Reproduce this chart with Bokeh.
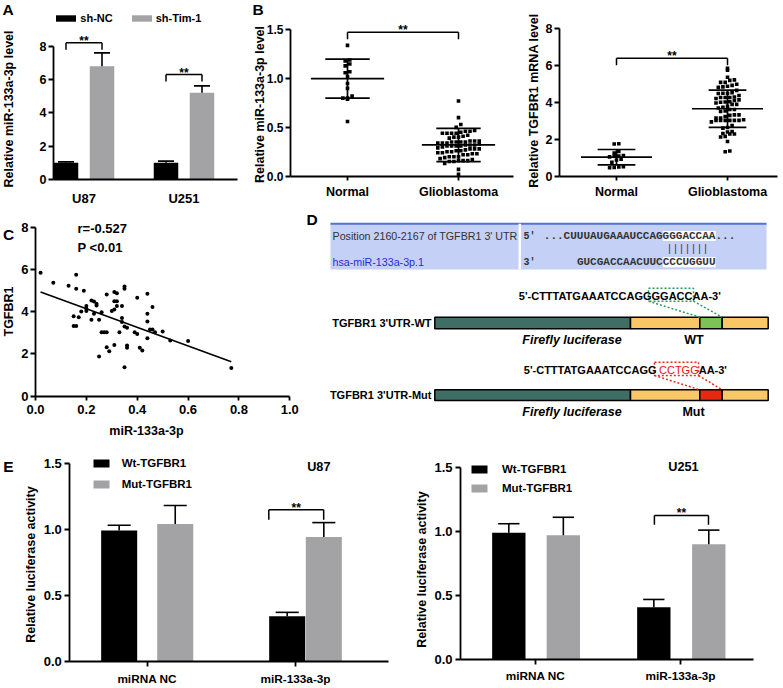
import math
import numpy as np
from bokeh.plotting import figure
from bokeh.models import Range1d, FixedTicker, Label, Legend, LegendItem
from bokeh.layouts import row, column
from bokeh.embed import file_html
from bokeh.resources import INLINE
from bokeh.core.properties import value

# ---------------- data ----------------
A_groups = ["U87", "U251"]
A_shNC = [1.00, 1.00]
A_shNC_err = [0.06, 0.10]
A_shTim = [6.80, 5.20]
A_shTim_err = [0.80, 0.42]
A_sig = [8.2, 6.3]

B_groups = ["Normal", "Glioblastoma"]
B_normal_mir = [1.34, 1.19, 1.18, 1.15, 1.13, 1.07, 1.06, 1.02, 0.95, 0.90, 0.82, 0.80, 0.80, 0.79, 0.56]
B_normal_tgfbr1 = [1.76, 1.75, 1.35, 1.25, 1.12, 1.10, 1.08, 1.05, 0.92, 0.88, 0.75, 0.52, 0.50, 0.48, 0.46]
glio_mir = [0.02, 0.07, 0.13, 0.16, 0.16, 0.19, 0.15, 0.17, 0.15, 0.16,
            0.18, 0.20, 0.20, 0.20, 0.22, 0.23, 0.24, 0.24, 0.23, 0.22,
            0.25, 0.26, 0.25, 0.26, 0.27, 0.28, 0.28, 0.28, 0.29, 0.30,
            0.31, 0.32, 0.31, 0.32, 0.32, 0.31, 0.31, 0.33, 0.34, 0.34,
            0.34, 0.35, 0.35, 0.35, 0.36, 0.36, 0.36, 0.35, 0.39, 0.40,
            0.40, 0.41, 0.42, 0.44, 0.44, 0.44, 0.44, 0.45, 0.46, 0.46,
            0.47, 0.50, 0.53, 0.60, 0.77]
glio_tgfbr1 = [5.85, 5.37, 5.23, 5.75, 5.09, 4.99, 3.79, 3.74, 3.33, 3.33,
               4.01, 4.14, 4.27, 4.04, 4.53, 4.49, 4.38, 4.30, 3.90, 3.62,
               3.62, 3.97, 1.88, 3.03, 3.03, 3.03, 4.82, 2.32, 2.13, 4.03,
               4.93, 4.88, 4.50, 4.50, 4.27, 4.11, 2.43, 3.03, 4.27, 3.70,
               3.51, 5.20, 5.09, 3.30, 3.24, 2.40, 2.29, 1.37, 3.03, 2.95,
               4.66, 2.29, 2.16, 4.85, 3.90, 3.54, 2.75, 3.16, 3.16, 4.22,
               3.03, 3.06, 2.64, 2.61, 1.33]
B_mir_mean = [1.00, 0.32]
B_mir_sd = [0.20, 0.17]
B_tgfbr1_mean = [1.03, 3.66]
B_tgfbr1_sd = [0.42, 1.01]
B_mir_sig = 1.475
B_tgfbr1_sig = 6.4

C_fit_x = [0.02, 0.77]
C_fit_y = [4.93, 1.63]
C_r_text = "r=-0.527"
C_p_text = "P <0.01"

E_groups = ["miRNA NC", "miR-133a-3p"]
E_U87_wt = [0.99, 0.34]
E_U87_wt_err = [0.04, 0.03]
E_U87_mut = [1.04, 0.94]
E_U87_mut_err = [0.14, 0.11]
E_U87_sig = 1.147
E_U251_wt = [0.99, 0.41]
E_U251_wt_err = [0.07, 0.06]
E_U251_mut = [0.97, 0.90]
E_U251_mut_err = [0.14, 0.11]
E_U251_sig = 1.124

# ---------------- helpers ----------------
K = 1.0
FONT = "Liberation Sans"
MONO = "Liberation Mono"
LW = 1.8 * K
BLACK = "#000000"
GRAY = "#a3a3a6"


def S(v):
    return int(round(v * K))


def fs(v):
    return f"{v * K:.1f}px"


class Panel:
    """A figure whose frame fills its whole box; positions given in reference pixels."""

    def __init__(self, box, xcal, ycal, axis_px=None):
        px1, v1, px2, v2 = xcal
        self.axx = (v2 - v1) / (px2 - px1)
        self.bxx = v1 - self.axx * px1
        py1, w1, py2, w2 = ycal
        self.ayy = (w2 - w1) / (py2 - py1)
        self.byy = w1 - self.ayy * py1
        self.box = box
        self.axis_px = axis_px
        l, t, r, b = box
        kw = {} if axis_px else dict(x_axis_location=None, y_axis_location=None)
        self.p = figure(width=S(r) - S(l), height=S(b) - S(t),
                        x_range=Range1d(self.X(l), self.X(r)),
                        y_range=Range1d(self.Y(b), self.Y(t)),
                        min_border_left=0, min_border_right=0,
                        min_border_top=0, min_border_bottom=0,
                        output_backend="svg", toolbar_location=None, **kw)
        self.p.outline_line_color = None
        self.p.grid.visible = False
        self.p.background_fill_color = "white"
        self.p.border_fill_color = "white"

    def X(self, px):
        return self.axx * px + self.bxx

    def Y(self, py):
        return self.ayy * py + self.byy

    def dyv(self, dpx):
        return abs(self.ayy) * dpx

    def dxv(self, dpx):
        return abs(self.axx) * dpx


def lab(P, px, py, text, size, style="bold", color="black", align="center",
        baseline="middle", angle=0.0, font=FONT):
    P.p.add_layout(Label(x=P.X(px), y=P.Y(py), text=text, text_font=font,
                         text_font_size=fs(size), text_font_style=style,
                         text_color=color, text_align=align,
                         text_baseline=baseline, angle=angle))


def key(t):
    t = float(t)
    return int(t) if t.is_integer() else t


def style_axes(P, xt, xl, yt, yl, xfont, yfont, xtick_out, ytick_out,
               xstand, ystand, ybounds):
    p = P.p
    yx_px, xy_px, xend_px = P.axis_px
    xa, ya = p.xaxis[0], p.yaxis[0]
    for ax in (xa, ya):
        ax.axis_line_color = "black"
        ax.axis_line_width = LW
        ax.major_tick_line_color = "black"
        ax.major_tick_line_width = LW
        ax.minor_tick_line_color = None
        ax.major_tick_in = 0
        ax.major_label_text_font = FONT
        ax.major_label_text_font_style = "bold"
        ax.major_label_text_color = "black"
    xa.fixed_location = P.Y(xy_px)
    ya.fixed_location = P.X(yx_px)
    xa.bounds = (P.X(yx_px), P.X(xend_px))
    ya.bounds = ybounds
    xa.ticker = FixedTicker(ticks=[key(t) for t in xt])
    xa.major_label_overrides = {key(t): s for t, s in zip(xt, xl)}
    ya.ticker = FixedTicker(ticks=[key(t) for t in yt])
    ya.major_label_overrides = {key(t): s for t, s in zip(yt, yl)}
    xa.major_label_text_font_size = fs(xfont)
    ya.major_label_text_font_size = fs(yfont)
    xa.major_tick_out = int(round(xtick_out * K))
    ya.major_tick_out = int(round(ytick_out * K))
    if xtick_out == 0:
        xa.major_tick_line_color = None
    xa.major_label_standoff = int(round(xstand))
    ya.major_label_standoff = int(round(ystand))


def errbars(p, x, top, err, capw, lw=1.6 * K):
    x = np.asarray(x, float)
    top = np.asarray(top, float)
    hi = top + np.asarray(err, float)
    p.segment(x0=x, y0=top, x1=x, y1=hi, line_color="black", line_width=lw)
    p.segment(x0=x - capw / 2, y0=hi, x1=x + capw / 2, y1=hi, line_color="black", line_width=lw)


def bracket(P, x0, x1, y, drop, size=12):
    P.p.segment(x0=[x0, x0, x1], y0=[y, y, y], x1=[x1, x0, x1], y1=[y, y - drop, y - drop],
                line_color="black", line_width=1.5 * K)
    P.p.add_layout(Label(x=(x0 + x1) / 2, y=y + P.dyv(2), text="**", text_font=FONT,
                         text_font_size=fs(size), text_font_style="bold", text_color="black",
                         text_align="center", text_baseline="alphabetic"))


def add_legend(P, rends, labels, orientation, left_px, last_center_py,
               gw, gh, font, standoff, spacing):
    th = font * K * 1.15
    l, t, r, b = P.box
    vx = (left_px - l) * K
    vy = (b - last_center_py) * K - th / 2
    items = [LegendItem(label=value(s), renderers=[rr]) for s, rr in zip(labels, rends)]
    leg = Legend(items=items, orientation=orientation, location=(vx, vy),
                 glyph_width=int(round(gw * K)), glyph_height=int(round(gh * K)),
                 label_text_font=FONT, label_text_font_size=fs(font),
                 label_text_font_style="bold", label_text_color="black",
                 label_standoff=int(round(standoff * K)), spacing=int(round(spacing)),
                 padding=0, margin=0, border_line_color=None, background_fill_alpha=0,
                 label_height=int(round(gh * K)), label_width=10)
    P.p.add_layout(leg)


def swarm(vals, center, row_h, dx):
    v = np.asarray(vals, float)
    bins = np.round(v / row_h).astype(int)
    xs = np.zeros(len(v))
    for bb in np.unique(bins):
        idx = np.where(bins == bb)[0]
        idx = idx[np.argsort(v[idx])]
        n = len(idx)
        xs[idx] = center + (np.arange(n) - (n - 1) / 2.0) * dx
    return xs, v


# ---------------- Panel A ----------------
A = Panel((0, 0, 244, 209), (83.5, 1, 183.5, 2), (179, 0, 45.7, 8), axis_px=(53, 179, 237))
pa = A.p
xA = np.arange(1, len(A_groups) + 1, dtype=float)
A_off, A_bw = 0.18, 0.245
r_nc = pa.vbar(x=xA - A_off, top=A_shNC, width=A_bw, bottom=0, fill_color=BLACK, line_color=None)
r_tim = pa.vbar(x=xA + A_off, top=A_shTim, width=A_bw, bottom=0, fill_color=GRAY, line_color=None)
errbars(pa, xA - A_off, A_shNC, A_shNC_err, 0.16)
errbars(pa, xA + A_off, A_shTim, A_shTim_err, 0.16)
for i in range(len(A_groups)):
    bracket(A, xA[i] - A_off, xA[i] + A_off, A_sig[i], A.dyv(7))
style_axes(A, xA, A_groups, [0, 2, 4, 6, 8], ["0", "2", "4", "6", "8"], 13, 12.5,
           0, 5, 11, 2, ybounds=(0, 8))
add_legend(A, [r_nc, r_tim], ["sh-NC", "sh-Tim-1"], "horizontal", 53.3, 17.8,
           25, 8, 11, 2, 16.5)
lab(A, 7.5, 8.5, "A", 15.5)
lab(A, 8.3, 108.5, "Relative miR-133a-3p level", 12.5, angle=math.pi / 2)

# ---------------- Panel B (left) ----------------
Bl = Panel((244, 0, 523, 209), (347, 1, 458, 2), (175.7, 0, 29.3, 1.5), axis_px=(290, 175.7, 513))
pb = Bl.p
xB = np.arange(1, len(B_groups) + 1, dtype=float)
for grp, cx in ((B_normal_mir, xB[0]), (glio_mir, xB[1])):
    sx, sy = swarm(grp, cx, Bl.dyv(5), Bl.dxv(4.6))
    pb.scatter(sx, sy, marker="square", size=3.6, fill_color="black", line_color=None)
for i in range(2):
    m, s = B_mir_mean[i], B_mir_sd[i]
    pb.segment(x0=[xB[i] - 0.33, xB[i] - 0.2, xB[i] - 0.2, xB[i]],
               y0=[m, m - s, m + s, m - s],
               x1=[xB[i] + 0.33, xB[i] + 0.2, xB[i] + 0.2, xB[i]],
               y1=[m, m - s, m + s, m + s], line_color="black", line_width=1.7 * K)
bracket(Bl, xB[0], xB[1], B_mir_sig, Bl.dyv(7))
style_axes(Bl, xB, B_groups, [0, 0.5, 1, 1.5], ["0.0", "0.5", "1.0", "1.5"], 12.5, 12,
           4, 5, 4.7, 2, ybounds=(0, 1.5))
lab(Bl, 257.5, 8.7, "B", 15.5)
lab(Bl, 259.5, 104, "Relative miR-133a-3p level", 12.5, angle=math.pi / 2)

# ---------------- Panel B (right) ----------------
Br = Panel((523, 0, 782, 209), (616, 1, 727, 2), (175.7, 0, 28.3, 8), axis_px=(559, 175.7, 777))
pc = Br.p
for grp, cx in ((B_normal_tgfbr1, xB[0]), (glio_tgfbr1, xB[1])):
    sx, sy = swarm(grp, cx, Br.dyv(5), Br.dxv(4.6))
    pc.scatter(sx, sy, marker="square", size=3.6, fill_color="black", line_color=None)
for i in range(2):
    m, s = B_tgfbr1_mean[i], B_tgfbr1_sd[i]
    pc.segment(x0=[xB[i] - 0.32, xB[i] - 0.17, xB[i] - 0.17, xB[i]],
               y0=[m, m - s, m + s, m - s],
               x1=[xB[i] + 0.32, xB[i] + 0.17, xB[i] + 0.17, xB[i]],
               y1=[m, m - s, m + s, m + s], line_color="black", line_width=1.7 * K)
bracket(Br, xB[0], xB[1], B_tgfbr1_sig, Br.dyv(7))
style_axes(Br, xB, B_groups, [0, 2, 4, 6, 8], ["0", "2", "4", "6", "8"], 12.5, 12.5,
           4, 5, 4.7, 2, ybounds=(0, 8))
lab(Br, 533, 100, "Relative TGFBR1 mRNA level", 12.5, angle=math.pi / 2)

# ---------------- Panel C ----------------
C = Panel((0, 209, 302, 442), (35, 0, 289.3, 1), (395.7, 0, 269, 6), axis_px=(35, 395.7, 289.3))
pcc = C.p
pcc.scatter(glio_mir, glio_tgfbr1, marker="circle", size=4.0, fill_color="black", line_color=None)
pcc.line(C_fit_x, C_fit_y, line_color="black", line_width=1.6 * K)
style_axes(C, [0, 0.2, 0.4, 0.6, 0.8, 1.0], ["0.0", "0.2", "0.4", "0.6", "0.8", "1.0"],
           [0, 2, 4, 6, 8], ["0", "2", "4", "6", "8"], 13, 13, 4, 5, 5, 2, ybounds=(0, 8))
lab(C, 77, 228.3, C_r_text, 13, align="left")
lab(C, 77, 246.7, C_p_text, 13, align="left")
lab(C, 8, 233.5, "C", 15.5)
lab(C, 8, 311, "TGFBR1", 12.5, angle=math.pi / 2)
lab(C, 146, 430.5, "miR-133a-3p", 12.5)

# ---------------- Panel D (schematic) ----------------
D = Panel((302, 209, 782, 442), (0, 0, 1, 1), (0, 0, 1, 1))
pd_ = D.p
pd_.quad(left=[330], right=[766], top=[223.3], bottom=[269], fill_color="#c4d0f6", line_color=None)
pd_.segment(x0=[330], y0=[223.3], x1=[766], y1=[223.3], line_color="#4d74d6", line_width=2 * K)
pd_.segment(x0=[519.3], y0=[223.3], x1=[519.3], y1=[269], line_color="white", line_width=2.5 * K)
pd_.quad(left=[662.3, 662.3], right=[715.2, 715.2], top=[230.5, 256.5], bottom=[240.5, 266.8],
         fill_color="white", line_color=None)
lab(D, 332, 235.5, "Position 2160-2167 of TGFBR1 3' UTR", 10.7, style="normal", color="#333333", align="left")
lab(D, 332, 261.7, "hsa-miR-133a-3p.1", 10.7, style="normal", color="#2b2bd6", align="left")
lab(D, 523, 235.5, "5'", 10, color="#333333", align="left", font=MONO)
lab(D, 523, 261.7, "3'", 10, color="#333333", align="left", font=MONO)
lab(D, 543.3, 235.5, "...CUUUAUGAAAUCCAGGGGACCAA...", 11, color="#333333", align="left", font=MONO)
lab(D, 666, 249, "|||||||", 10, style="normal", color="#333333", align="left", font=MONO)
lab(D, 576.4, 261.7, "GUCGACCAACUUCCCCUGGUU", 11, color="#333333", align="left", font=MONO)

seg_l = [434.3, 630, 699.3, 721.7]
seg_r = [630, 699.3, 721.7, 767.7]
TEAL, ORANGE = "#3f6e66", "#f9c766"
pd_.quad(left=seg_l, right=seg_r, top=[316.7] * 4, bottom=[328.3] * 4,
         fill_color=[TEAL, ORANGE, "#7cc257", ORANGE], line_color="black", line_width=1.5 * K)
pd_.quad(left=seg_l, right=seg_r, top=[389.3] * 4, bottom=[400] * 4,
         fill_color=[TEAL, ORANGE, "#e62a12", ORANGE], line_color="black", line_width=1.5 * K)
GREEN_D, RED_D = "#2e9a5a", "#e8281c"
pd_.quad(left=[648], right=[693], top=[287.7], bottom=[300.7], fill_color=None,
         line_color=GREEN_D, line_dash="2 2", line_width=1.5 * K)
pd_.segment(x0=[648, 693], y0=[300.7, 300.7], x1=[699.3, 721.7], y1=[316.7, 316.7],
            line_color=GREEN_D, line_dash="2 2", line_width=1.5 * K)
pd_.quad(left=[654], right=[698], top=[361.7], bottom=[375], fill_color=None,
         line_color=RED_D, line_dash="2 2", line_width=1.5 * K)
pd_.segment(x0=[654, 698], y0=[375, 375], x1=[699.3, 721.7], y1=[389.3, 389.3],
            line_color=RED_D, line_dash="2 2", line_width=1.5 * K)
lab(D, 518.3, 295, "5'-CTTTATGAAATCCAGGGGACCAA-3'", 11, align="left")
lab(D, 523.3, 369.3, "5'-CTTTATGAAATCCAGG", 11, align="left")
lab(D, 658.5, 369.3, "CCTGG", 11, style="normal", color="#ee1111", align="left")
lab(D, 698.2, 369.3, "AA-3'", 11, align="left")
lab(D, 431, 322.5, "TGFBR1 3'UTR-WT", 11, align="right")
lab(D, 431, 394.7, "TGFBR1 3'UTR-Mut", 11, align="right")
lab(D, 571.5, 339.3, "Firefly luciferase", 12.5, style="bold italic")
lab(D, 571.5, 411.7, "Firefly luciferase", 12.5, style="bold italic")
lab(D, 693.5, 339.3, "WT", 12.5)
lab(D, 693, 411.7, "Mut", 12.5)
lab(D, 311.7, 218.7, "D", 15.5)


# ---------------- Panel E ----------------
def e_panel(P, wt, wt_err, mut, mut_err, off_wt, off_mut, bw, sig, sig_x0, sig_x1, drop):
    p = P.p
    xs = np.arange(1, len(E_groups) + 1, dtype=float)
    xw = xs + np.asarray(off_wt)
    xm = xs + np.asarray(off_mut)
    r1 = p.vbar(x=xw, top=wt, width=bw, bottom=0, fill_color=BLACK, line_color=None)
    r2 = p.vbar(x=xm, top=mut, width=bw, bottom=0, fill_color=GRAY, line_color=None)
    errbars(p, xw, wt, wt_err, bw * 0.64)
    errbars(p, xm, mut, mut_err, bw * 0.64)
    bracket(P, xs[1] + sig_x0, xs[1] + sig_x1, sig, drop)
    return xs, r1, r2


EL = Panel((0, 442, 408, 687), (146.7, 1, 295, 2), (660.7, 0, 462.7, 1.5), axis_px=(69.3, 660.7, 388))
xs, r1, r2 = e_panel(EL, E_U87_wt, E_U87_wt_err, E_U87_mut, E_U87_mut_err,
                     [-0.189, -0.056], [0.189, 0.191], 0.243, E_U87_sig, -0.18, 0.19, EL.dyv(10))
style_axes(EL, xs, E_groups, [0, 0.5, 1, 1.5], ["0.0", "0.5", "1.0", "1.5"], 11.8, 13,
           5, 5, 5.7, 3, ybounds=(0, 1.5))
add_legend(EL, [r1, r2], ["Wt-TGFBR1", "Mut-TGFBR1"], "vertical", 90.7, 483,
           20, 10, 11.5, 11, 22 * K - 11.5 * K * 1.15)
lab(EL, 318.3, 466.7, "U87", 12.7)
lab(EL, 8, 466, "E", 15.5)
lab(EL, 30, 564, "Relative luciferase activity", 12.5, angle=math.pi / 2)

ER = Panel((408, 442, 782, 687), (535, 1, 680, 2), (659.3, 0, 466.7, 1.5), axis_px=(460, 659.3, 753))
xs, r1, r2 = e_panel(ER, E_U251_wt, E_U251_wt_err, E_U251_mut, E_U251_mut_err,
                     [-0.184, -0.184], [0.192, 0.195], 0.23, E_U251_sig, -0.18, 0.193, ER.dyv(9.3))
style_axes(ER, xs, E_groups, [0, 0.5, 1, 1.5], ["0.0", "0.5", "1.0", "1.5"], 11.8, 13,
           5, 5, 3.8, 3, ybounds=(0, 1.5))
add_legend(ER, [r1, r2], ["Wt-TGFBR1", "Mut-TGFBR1"], "vertical", 469, 487.7,
           20, 10, 11.5, 12.7, 20 * K - 11.5 * K * 1.15)
lab(ER, 683, 466, "U251", 12.7)
lab(ER, 421.7, 569, "Relative luciferase activity", 12.5, angle=math.pi / 2)

layout = column(row(A.p, Bl.p, Br.p), row(C.p, D.p), row(EL.p, ER.p))
open("out.html", "w").write(file_html(layout, INLINE))
